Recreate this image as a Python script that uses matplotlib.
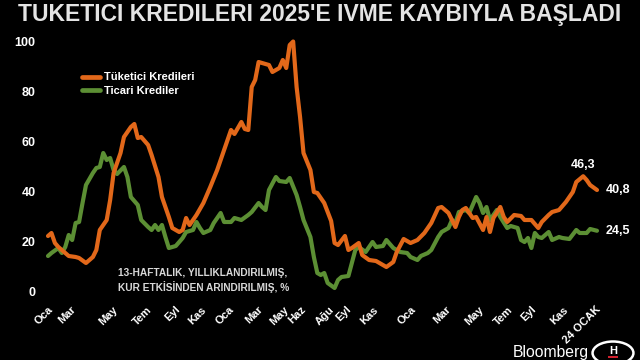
import matplotlib
matplotlib.use("Agg")
import matplotlib.pyplot as plt
from matplotlib.patches import Circle, Rectangle

# ---- data (weekly index from early Jan 2022 to 24 Jan 2025) ----
tuk_weeks = [0, 1, 2, 3, 5, 6, 8, 9, 11, 13, 14, 15, 17, 18, 19, 21, 22, 24, 25, 26, 27, 29, 30,
             32, 33, 35, 36, 38, 39, 40, 41, 43, 45, 47, 49, 51, 53, 54, 56, 57, 58, 59, 60, 61,
             63, 64, 65, 67, 68, 69, 70, 71, 72, 73, 74, 76, 77, 78, 80, 82, 83, 84, 86, 87, 88,
             90, 91, 93, 95, 97, 98, 100, 101, 103, 105, 107, 109, 111, 113, 114, 116, 118, 119,
             120, 121, 123, 124, 126, 127, 128, 129, 131, 132, 133, 135, 137, 138, 140, 142, 143,
             145, 146, 148, 150, 152, 153, 155, 156, 157, 159]
tuk_vals = [22.4, 23.6, 19.6, 18, 15.6, 14.4, 14, 13.6, 11.6, 14, 16.8, 24.8, 28.8, 36.8, 47.6,
            55.6, 62, 66, 67.2, 61.6, 62, 58.8, 54.8, 46, 38, 30, 25.6, 24, 24.8, 29.6, 26.8,
            30.8, 35.6, 42, 48.8, 56.8, 64.8, 63.2, 68, 65.2, 64.8, 82, 84.8, 92, 91.2, 90.8, 88,
            89.6, 92.8, 89.6, 98.8, 100.2, 82, 70, 55.6, 48.8, 40, 39.6, 35.6, 28.4, 19.6, 18.8,
            22.4, 16.8, 17.6, 19.6, 14.8, 12.8, 12.4, 10.8, 10, 12, 16, 21.2, 19.6, 20.8, 23.6,
            27.6, 33.6, 34, 31.6, 26, 30, 32.8, 33.6, 29.6, 30, 24.8, 30, 24, 29.6, 34, 30, 28,
            30.8, 30.4, 28.8, 28.8, 25.6, 28, 30.8, 32, 32.8, 36, 40, 44, 46.3, 44.8, 42.8, 40.8]

tic_weeks = [0, 1, 3, 4, 5, 6, 7, 8, 9, 10, 11, 13, 14, 15, 16, 17, 18, 19, 20, 22, 23, 24, 26,
             27, 29, 30, 31, 32, 33, 34, 35, 37, 38, 39, 40, 42, 43, 44, 45, 47, 48, 50, 51, 53,
             54, 56, 58, 59, 61, 62, 63, 64, 66, 67, 69, 70, 72, 73, 74, 76, 77, 78, 79, 80, 81,
             83, 84, 85, 87, 88, 89, 90, 92, 94, 95, 97, 98, 100, 102, 104, 105, 107, 108, 110,
             111, 113, 114, 116, 117, 118, 119, 121, 122, 124, 125, 126, 127, 128, 129, 130, 131,
             133, 134, 136, 137, 138, 139, 140, 141, 142, 143, 145, 146, 148, 149, 151, 153, 154,
             156, 157, 159]
tic_vals = [14.4, 15.6, 17.6, 15.6, 18, 22.8, 20.8, 27.6, 28, 35.6, 42.8, 47.6, 49.6, 50, 55.6,
            52.8, 53.6, 48.8, 47.2, 50, 46, 38, 34.8, 28.8, 26, 24.8, 26.8, 24.8, 26.8, 22, 17.6,
            18.4, 20, 21.6, 24, 24.8, 28, 25.6, 23.6, 24.8, 27.6, 31.6, 28, 28, 29.6, 28.8, 30.8,
            32, 35.6, 34, 32.8, 40.8, 46, 44.4, 44, 45.6, 38.8, 34, 28.8, 22, 14, 7.6, 6.8, 7.6,
            3.6, 1.6, 4.8, 6, 6.4, 11.6, 16.8, 18, 16, 20, 18, 18.4, 20.8, 17.6, 16, 15.6, 14,
            12.8, 14.4, 15.6, 16.8, 22, 24, 25.6, 28.8, 27.6, 32, 32.8, 31.6, 38, 35.6, 31.6, 34,
            28.8, 30.8, 32.8, 30, 25.6, 26.4, 25.6, 20.8, 20, 21.6, 17.6, 23.6, 22, 21.6, 24,
            20.8, 22, 21.6, 21.2, 24.8, 23.6, 23.6, 25.2, 24.5]

x_tick_labels = ["Oca", "Mar", "May", "Tem", "Eyl", "Kas", "Oca", "Mar", "May", "Haz", "Ağu",
                 "Eyl", "Kas", "Oca", "Mar", "May", "Tem", "Eyl", "Kas", "24 OCAK"]
x_tick_pos = [0, 6.7, 18.8, 28.7, 36.8, 44.3, 52.4, 60.8, 68.1, 73.3, 81.4, 86.3, 94.1, 105.1,
              115.3, 124.8, 133.2, 139.8, 149.1, 158.6]
y_ticks = [0, 20, 40, 60, 80, 100]

series_names = ["Tüketici Kredileri", "Ticari Krediler"]
end_labels = ["46,3", "40,8", "24,5"]

ORANGE = "#E2681A"
GREEN = "#5C8F34"
FONT = "Liberation Sans"

W, H = 640, 360
fig = plt.figure(figsize=(6.4, 3.6), dpi=100, facecolor="black")
ax = fig.add_axes([48 / W, (H - 292) / H, 549 / W, 250 / H])
ax.set_facecolor("black")

ax.plot(tuk_weeks, tuk_vals, color=ORANGE, lw=3.0, solid_joinstyle="round",
        solid_capstyle="round", clip_on=False, label=series_names[0], zorder=3)
ax.plot(tic_weeks, tic_vals, color=GREEN, lw=3.0, solid_joinstyle="round",
        solid_capstyle="round", clip_on=False, label=series_names[1], zorder=2)

ax.set_xlim(0, 159)
ax.set_ylim(0, 100)
for s in ax.spines.values():
    s.set_visible(False)

ax.set_yticks(y_ticks)
ax.set_yticklabels([str(v) for v in y_ticks], fontfamily=FONT, fontweight="bold",
                   fontsize=9, color="white")
ax.tick_params(axis="y", length=0, pad=9)

ax.set_xticks(x_tick_pos)
ax.set_xticklabels(x_tick_labels, fontfamily=FONT, fontweight="bold", fontsize=8,
                   color="white", rotation=45, rotation_mode="anchor", ha="right", va="top")
ax.tick_params(axis="x", length=0, pad=9)

leg = ax.legend(loc="upper left", bbox_to_anchor=(82 / W, 1 - 72.5 / H),
                bbox_transform=fig.transFigure, frameon=False, borderpad=0,
                borderaxespad=0, handlelength=1.6, handletextpad=0.35, labelspacing=0.3,
                prop={"family": FONT, "weight": "bold", "size": 8})
for t in leg.get_texts():
    t.set_color("white")
for l in leg.get_lines():
    l.set_linewidth(3.4)

# end labels
peak_i = tuk_vals.index(max(tuk_vals[-10:]))
ax.annotate(end_labels[0], xy=(tuk_weeks[peak_i], tuk_vals[peak_i]), xytext=(0, 4),
            textcoords="offset points", ha="center", va="bottom", color="white",
            fontfamily=FONT, fontweight="bold", fontsize=9)
ax.annotate(end_labels[1], xy=(tuk_weeks[-1], tuk_vals[-1]), xytext=(6, 0),
            textcoords="offset points", ha="left", va="center", color="white",
            fontfamily=FONT, fontweight="bold", fontsize=9, annotation_clip=False)
ax.annotate(end_labels[2], xy=(tic_weeks[-1], tic_vals[-1]), xytext=(6, 0),
            textcoords="offset points", ha="left", va="center", color="white",
            fontfamily=FONT, fontweight="bold", fontsize=9, annotation_clip=False)

# title
fig.text(320 / W, (H - 20.5) / H, "TUKETICI KREDILERI 2025'E IVME KAYBIYLA BAŞLADI",
         ha="center", va="baseline", color="#E4E4E4", fontfamily=FONT,
         fontweight="bold", fontsize=16.5)

# note
fig.text(118 / W, (H - 273.5) / H, "13-HAFTALIK, YILLIKLANDIRILMIŞ,", ha="left",
         va="center", color="#D8D8D8", fontfamily=FONT, fontweight="bold", fontsize=7.3)
fig.text(118 / W, (H - 287) / H, "KUR ETKİSİNDEN ARINDIRILMIŞ, %", ha="left",
         va="center", color="#D8D8D8", fontfamily=FONT, fontweight="bold", fontsize=7.3)

# branding
fig.text(513 / W, (H - 356.5) / H, "Bloomberg", ha="left", va="baseline", color="white",
         fontfamily=FONT, fontsize=11.3)
fig.add_artist(Circle((613 / W, (H - 353) / H), 11.5 / H, transform=fig.transFigure,
                      facecolor="black", edgecolor="white", lw=1.8))
fig.text(613 / W, (H - 351) / H, "H", ha="center", va="center", color="white",
         fontfamily=FONT, fontweight="bold", fontsize=8)
fig.add_artist(Rectangle((608 / W, (H - 358) / H), 10 / W, 2 / H, transform=fig.transFigure,
                         facecolor="#D0202E", edgecolor="none"))

fig.savefig("out.png", dpi=100, facecolor="black")
